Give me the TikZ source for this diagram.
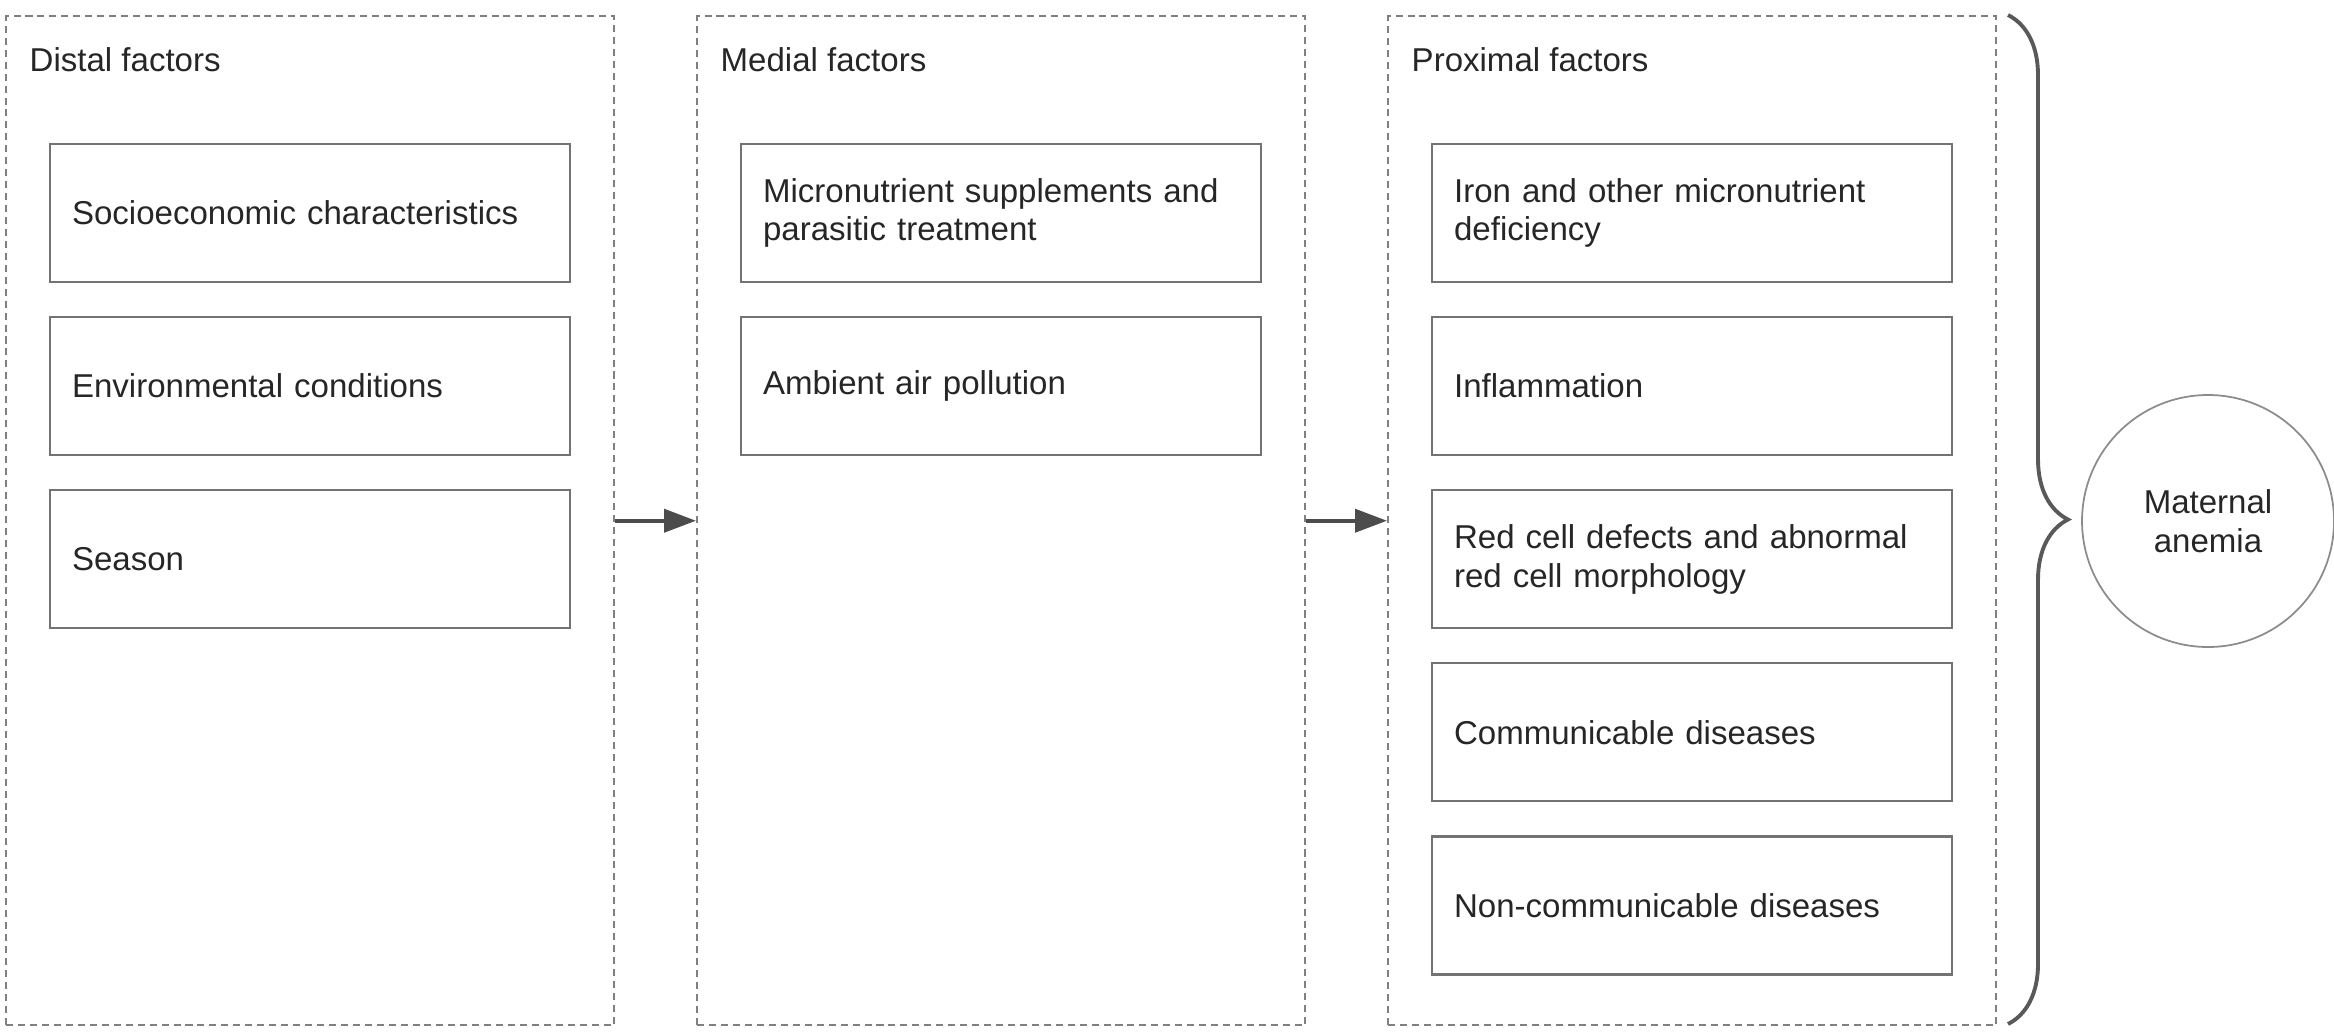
\documentclass[tikz,border=0pt]{standalone}
\usepackage{fontspec}
\setmainfont{Liberation Sans}
\usetikzlibrary{arrows.meta,positioning,decorations.pathreplacing}

\begin{document}
\begin{tikzpicture}[x=0.1mm, y=-0.1mm, node distance=3.3mm,
    every node/.style={font=\fontsize{9.4}{11}\selectfont, text=black!85},
    group/.style={draw=black!50, line width=0.7pt,
        dash pattern=on 2pt off 1.4pt, minimum width=60.8mm,
        minimum height=100.9mm, anchor=north west, inner sep=0pt},
    title/.style={anchor=west, inner sep=0pt},
    factor/.style={draw=black!55, line width=0.6pt, minimum width=52mm,
        minimum height=13.8mm, text width=47.6mm, inner xsep=2.2mm,
        inner ysep=0pt, align=left},
    link/.style={draw=black!70, line width=1.1pt,
        -{Triangle[length=3.2mm, width=2.3mm]}}]

    \useasboundingbox (0,0) rectangle (2334,1032);

    % the three groups of factors
    \node[group] (distal) at (5,15) {};
    \node[group] (medial) at (696,15) {};
    \node[group] (proximal) at (1387,15) {};

    \node[title] (distalTitle) at (29,60) {Distal factors};
    \node[title] (medialTitle) at (720,60) {Medial factors};
    \node[title] (proximalTitle) at (1411,60) {Proximal factors};

    % distal
    \node[factor, anchor=north west] (distalA) at (49,143)
        {Socioeconomic characteristics};
    \node[factor, below=of distalA] (distalB) {Environmental conditions};
    \node[factor, below=of distalB] (distalC) {Season};

    % medial
    \node[factor, anchor=north west] (medialA) at (740,143)
        {Micronutrient supplements and\\parasitic treatment};
    \node[factor, below=of medialA] (medialB) {Ambient air pollution};

    % proximal
    \node[factor, anchor=north west] (proximalA) at (1431,143)
        {Iron and other micronutrient\\deficiency};
    \node[factor, below=of proximalA] (proximalB) {Inflammation};
    \node[factor, below=of proximalB] (proximalC)
        {Red cell defects and abnormal\\red cell morphology};
    \node[factor, below=of proximalC] (proximalD) {Communicable diseases};
    \node[factor, below=of proximalD] (proximalE) {Non-communicable diseases};

    % outcome
    \node[circle, draw=black!45, line width=0.5pt, minimum size=25.2mm,
        align=center] (anemia) at (2208,521) {Maternal\\anemia};

    \draw[link] (distal.east) -- (medial.west);
    \draw[link] (medial.east) -- (proximal.west);

    \coordinate (braceTop) at (2008,15);
    \coordinate (braceBottom) at (2008,1024);
    \draw[decorate, decoration={brace, amplitude=6mm}, draw=black!65,
        line width=1.1pt] (braceTop) -- (braceBottom);

\end{tikzpicture}
\end{document}
